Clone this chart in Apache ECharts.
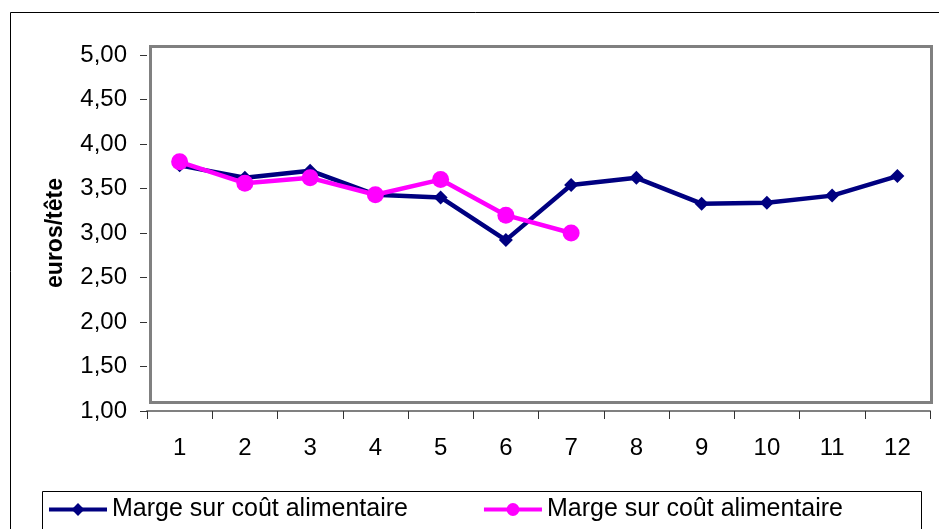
<!DOCTYPE html>
<html>
<head>
<meta charset="utf-8">
<script src="https://cdn.jsdelivr.net/npm/echarts@6/dist/echarts.min.js"></script>
<style>
html,body{margin:0;padding:0;background:#fff;}
#chart{width:939px;height:529px;}
</style>
</head>
<body>
<div id="chart"></div>
<script>
const categories = ['1','2','3','4','5','6','7','8','9','10','11','12'];
const seriesNames = ['Marge sur coût alimentaire', 'Marge sur coût alimentaire'];
const seriesA = [3.76, 3.62, 3.70, 3.43, 3.40, 2.92, 3.54, 3.62, 3.33, 3.34, 3.42, 3.64];
const seriesB = [3.80, 3.56, 3.62, 3.43, 3.60, 3.20, 3.00];
const yTickLabels = ['1,00','1,50','2,00','2,50','3,00','3,50','4,00','4,50','5,00'];
const yAxisTitle = 'euros/tête';

const FONT = 'Arial, "Liberation Sans", sans-serif';
const chart = echarts.init(document.getElementById('chart'));
chart.setOption({
  animation: false,
  backgroundColor: '#fff',
  graphic: [
    { type: 'rect', shape: { x: 10.5, y: 12.5, width: 1000, height: 1000 }, style: { fill: 'none', stroke: '#000', lineWidth: 1 }, z: 0 },
    { type: 'rect', shape: { x: 150.5, y: 46.5, width: 781, height: 356 }, style: { fill: 'none', stroke: '#808080', lineWidth: 3 }, z: 1 },
    { type: 'rect', shape: { x: 42.5, y: 491.5, width: 879, height: 100 }, style: { fill: 'none', stroke: '#000', lineWidth: 1 }, z: 1 }
  ],
  grid: { left: 147, right: 9, top: 55, bottom: 118, containLabel: false },
  legend: {
    left: 42, top: 492,
    itemWidth: 58, itemHeight: 16, itemGap: 74,
    textStyle: { fontFamily: FONT, fontSize: 25, color: '#000', lineHeight: 24 },
    data: [
      { name: 'A', lineStyle: { width: 4 } },
      { name: 'B', lineStyle: { width: 4 } }
    ],
    formatter: function (n) { return n === 'A' ? seriesNames[0] : seriesNames[1]; }
  },
  xAxis: {
    type: 'category',
    data: categories,
    boundaryGap: true,
    axisLine: { show: true, lineStyle: { color: '#808080', width: 2 } },
    axisTick: { show: true, length: 8, lineStyle: { color: '#333', width: 1 } },
    axisLabel: { fontFamily: FONT, fontSize: 24, color: '#000', margin: 25 },
    splitLine: { show: false }
  },
  yAxis: {
    type: 'value',
    min: 1, max: 5, interval: 0.5,
    name: yAxisTitle,
    nameLocation: 'middle',
    nameRotate: 90,
    nameGap: 80,
    nameTextStyle: { fontFamily: FONT, fontSize: 23, fontWeight: 'bold', color: '#000' },
    axisLine: { show: false },
    axisTick: { show: true, length: 7, lineStyle: { color: '#333', width: 1 } },
    axisLabel: {
      fontFamily: FONT, fontSize: 24, color: '#000', margin: 20,
      formatter: function (v) { return yTickLabels[Math.round((v - 1) / 0.5)]; }
    },
    splitLine: { show: false }
  },
  series: [
    {
      name: 'A', type: 'line', data: seriesA,
      symbol: 'diamond', symbolSize: 14,
      lineStyle: { color: '#000080', width: 4.5 },
      itemStyle: { color: '#000080' },
      z: 2
    },
    {
      name: 'B', type: 'line', data: seriesB,
      symbol: 'circle', symbolSize: 17,
      lineStyle: { color: '#FF00FF', width: 4.5 },
      itemStyle: { color: '#FF00FF' },
      z: 3
    }
  ]
});
</script>
</body>
</html>
